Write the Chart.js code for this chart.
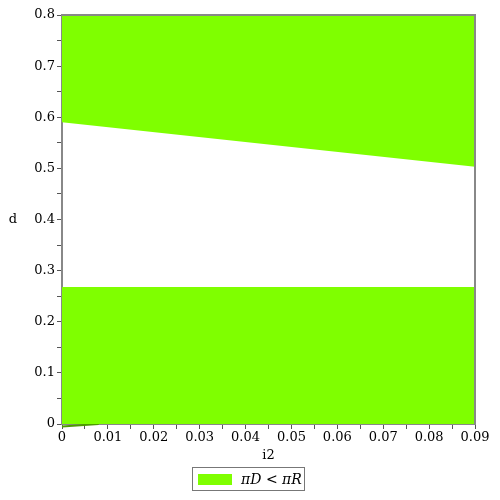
<!DOCTYPE html>
<html>
<head>
<meta charset="utf-8">
<script src="https://cdn.jsdelivr.net/npm/chart.js@4"></script>
<style>
  body { margin: 0; background: #fff; }
  #wrap { position: relative; width: 500px; height: 500px; }
  #legend {
    position: absolute; left: 192px; top: 467px; width: 113px; height: 24px;
    border: 1px solid #777; box-sizing: border-box;
    font-family: "DejaVu Serif", "Liberation Serif", serif; font-size: 14px; color: #000;
    display: flex; align-items: center;
  }
  #legend .sw { width: 34px; height: 11px; background: #7fff00; margin: 0 9px 0 5px; }
</style>
</head>
<body>
<div id="wrap">
  <canvas id="c" width="500" height="500"></canvas>
  <div id="legend"><span class="sw"></span><span><i>πD</i> &lt; <i>πR</i></span></div>
</div>
<script>
// region boundaries
const xEdges = [0, 0.09];
const upperEdge = [0.59, 0.503];   // lower boundary of the top green band
const lowerEdge = [0.268, 0.268];  // top of the bottom green band
const tailX = [0, 0.008];          // small dark stroke near origin
const tailY = [-0.005, 0];

const xMin = 0, xMax = 0.09, yMin = 0, yMax = 0.8;
const green = "#7fff00";

function pts(xs, ys) {
  return xs.map((x, i) => ({ x: x, y: ys[i] }));
}

// y axis label drawn flat, Maple style
const yTitle = {
  id: "yTitle",
  afterDraw(chart) {
    const ctx = chart.ctx;
    const a = chart.chartArea;
    ctx.save();
    ctx.font = "13px 'DejaVu Serif', 'Liberation Serif', serif";
    ctx.fillStyle = "#000";
    ctx.textAlign = "center";
    ctx.textBaseline = "middle";
    ctx.fillText("d", 13, (a.top + a.bottom) / 2);
    ctx.restore();
  }
};

const tickFont = { family: "'DejaVu Serif', 'Liberation Serif', serif", size: 13 };

new Chart(document.getElementById("c"), {
  type: "scatter",
  data: {
    datasets: [
      {
        data: pts(xEdges, upperEdge),
        showLine: true, pointRadius: 0, borderWidth: 0,
        borderColor: green, backgroundColor: green, fill: "end"
      },
      {
        data: pts(xEdges, lowerEdge),
        showLine: true, pointRadius: 0, borderWidth: 0,
        borderColor: green, backgroundColor: green, fill: "start"
      },
      {
        data: pts(tailX, tailY),
        showLine: true, pointRadius: 0, borderWidth: 2,
        borderColor: "#4c9a00", fill: false, clip: false
      }
    ]
  },
  options: {
    responsive: false,
    animation: false,
    layout: { padding: { left: 0, right: 25, top: 15, bottom: 37 } },
    plugins: { legend: { display: false }, tooltip: { enabled: false } },
    scales: {
      x: {
        type: "linear", min: xMin, max: xMax,
        afterFit(s) { s.height = 39; },
        border: { color: "#888", width: 2 },
        grid: { drawOnChartArea: false, drawTicks: true, tickLength: 5, color: "#555" },
        ticks: {
          stepSize: 0.005, maxRotation: 0, autoSkip: false,
          font: tickFont, color: "#000", padding: 1,
          callback: v => {
            const k = Math.round(v * 1000);
            if (k % 10 !== 0) return "";
            return k === 0 ? "0" : (k / 1000).toFixed(2);
          }
        },
        title: { display: true, text: "i2", font: tickFont, color: "#000", padding: 0 }
      },
      y: {
        type: "linear", min: yMin, max: yMax,
        afterFit(s) { s.width = 62; },
        border: { color: "#888", width: 2 },
        grid: { drawOnChartArea: false, drawTicks: true, tickLength: 5, color: "#555" },
        ticks: {
          stepSize: 0.05, autoSkip: false,
          font: tickFont, color: "#000", padding: 2,
          callback: v => {
            const k = Math.round(v * 100);
            if (k % 10 !== 0) return "";
            return k === 0 ? "0" : (k / 100).toFixed(1);
          }
        }
      }
    }
  },
  plugins: [yTitle, {
    id: "frame",
    afterDatasetsDraw(chart) {
      const a = chart.chartArea, ctx = chart.ctx;
      ctx.save();
      ctx.strokeStyle = "#888";
      ctx.lineWidth = 2;
      ctx.beginPath();
      ctx.moveTo(a.left, a.top); ctx.lineTo(a.right, a.top); ctx.lineTo(a.right, a.bottom);
      ctx.stroke();
      ctx.restore();
    }
  }]
});
</script>
</body>
</html>
